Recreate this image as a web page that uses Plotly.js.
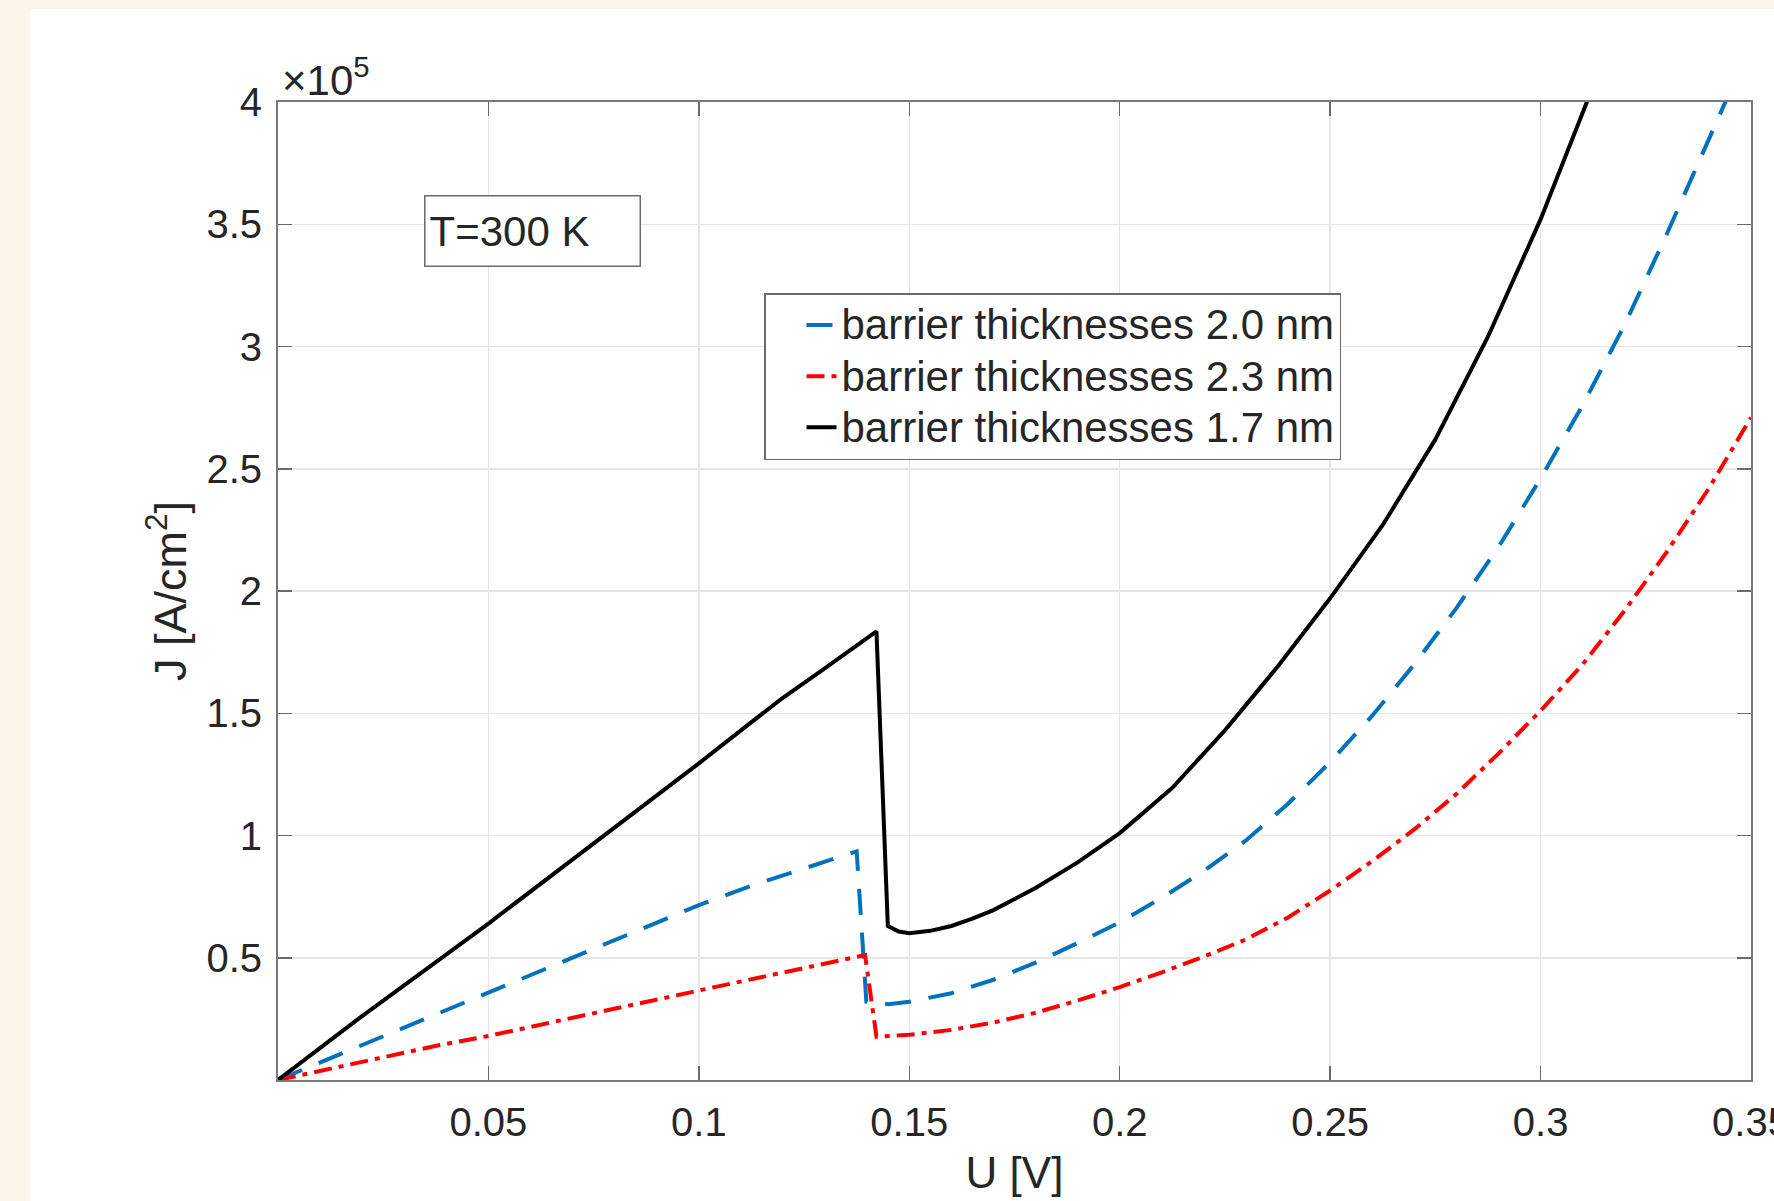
<!DOCTYPE html>
<html>
<head>
<meta charset="utf-8">
<script src="https://cdn.plot.ly/plotly-3.0.1.min.js"></script>
<style>
  html, body { margin: 0; padding: 0; background: #fdf5e7; }
  #chart { width: 1774px; height: 1201px; }
</style>
</head>
<body>
<div id="chart"></div>
<script>
// U [V] and J [x1e5 A/cm^2]
const U_20 = [0, 0.025, 0.05, 0.075, 0.1, 0.1125, 0.125, 0.1375, 0.1398, 0.145, 0.15, 0.16, 0.17, 0.18, 0.19, 0.2, 0.21, 0.22, 0.23, 0.24, 0.25, 0.26, 0.27, 0.28, 0.29, 0.3, 0.31, 0.32, 0.33, 0.34, 0.344, 0.347];
const J_20 = [0, 0.178, 0.355, 0.535, 0.715, 0.795, 0.865, 0.935, 0.32, 0.31, 0.32, 0.355, 0.41, 0.48, 0.56, 0.645, 0.745, 0.855, 0.98, 1.13, 1.30, 1.49, 1.70, 1.93, 2.18, 2.46, 2.76, 3.09, 3.46, 3.85, 4.0, 4.12];

const U_23 = [0, 0.0385, 0.05, 0.075, 0.1, 0.1193, 0.1395, 0.1422, 0.15, 0.16, 0.17, 0.18, 0.19, 0.2, 0.21, 0.22, 0.23, 0.24, 0.25, 0.26, 0.27, 0.28, 0.29, 0.3, 0.31, 0.32, 0.33, 0.34, 0.35];
const J_23 = [0, 0.143, 0.18, 0.275, 0.366, 0.437, 0.511, 0.177, 0.185, 0.205, 0.235, 0.275, 0.325, 0.38, 0.44, 0.505, 0.575, 0.665, 0.775, 0.895, 1.025, 1.17, 1.335, 1.51, 1.70, 1.92, 2.16, 2.42, 2.71];

const U_17 = [0, 0.0187, 0.05, 0.075, 0.1, 0.11, 0.1193, 0.13, 0.1375, 0.1422, 0.1449, 0.1475, 0.15, 0.155, 0.16, 0.165, 0.17, 0.18, 0.19, 0.2, 0.2125, 0.225, 0.2375, 0.25, 0.2625, 0.275, 0.2875, 0.3, 0.311, 0.3135];
const J_17 = [0, 0.245, 0.64, 0.965, 1.295, 1.43, 1.555, 1.685, 1.775, 1.835, 0.63, 0.607, 0.60, 0.61, 0.63, 0.66, 0.695, 0.785, 0.89, 1.01, 1.195, 1.43, 1.69, 1.97, 2.27, 2.62, 3.04, 3.52, 4.0, 4.12];

const seriesNames = ['barrier thicknesses 2.0 nm', 'barrier thicknesses 2.3 nm', 'barrier thicknesses 1.7 nm'];

const xTicks = [0.05, 0.1, 0.15, 0.2, 0.25, 0.3, 0.35];
const xTickLabels = ['0.05', '0.1', '0.15', '0.2', '0.25', '0.3', '0.35'];
const yTicks = [0.5, 1, 1.5, 2, 2.5, 3, 3.5, 4];
const yTickLabels = ['0.5', '1', '1.5', '2', '2.5', '3', '3.5', '4'];

const FONT = 'Liberation Sans, Arial, Helvetica, sans-serif';
const TXT = '#262626';

// plot area in pixels
const W = 1774, H = 1201;
const L = 278, R = 1751, T = 102, B = 1080;
const px = x => (x - L) / (R - L);
const py = y => (B - y) / (B - T);

const legendText = s => '<span style="font-size:42px">' + s + '</span>';

const traces = [
  { x: U_20, y: J_20, name: legendText(seriesNames[0]), mode: 'lines',
    line: { color: '#0072BD', width: 4, dash: '26px,18px' } },
  { x: U_23, y: J_23, name: legendText(seriesNames[1]), mode: 'lines',
    line: { color: '#FF0000', width: 4, dash: '18px,7px,5px,7px' } },
  { x: U_17, y: J_17, name: legendText(seriesNames[2]), mode: 'lines',
    line: { color: '#000000', width: 4 } }
];

const axisCommon = {
  showgrid: true, gridcolor: '#e6e6e6', gridwidth: 1.5,
  ticks: 'inside', ticklen: 14, tickwidth: 1.5, tickcolor: '#6a6a6a',
  showline: true, linecolor: '#7a7a7a', linewidth: 2, mirror: 'ticks',
  zeroline: false, tickfont: { family: FONT, size: 40, color: TXT },
  ticklabeloverflow: 'allow',
  fixedrange: true
};

const layout = {
  width: W, height: H,
  margin: { l: L, r: W - R, t: T, b: H - B, pad: 0 },
  paper_bgcolor: '#fdf5e7',
  plot_bgcolor: '#ffffff',
  font: { family: FONT, color: TXT },
  showlegend: true,
  xaxis: Object.assign({}, axisCommon, {
    range: [0, 0.35], tickmode: 'array', tickvals: xTicks, ticktext: xTickLabels,
    ticklabelstandoff: 6,
    title: { text: 'U [V]', font: { family: FONT, size: 44, color: TXT }, standoff: 14 }
  }),
  yaxis: Object.assign({}, axisCommon, {
    range: [0, 4], tickmode: 'array', tickvals: yTicks, ticktext: yTickLabels,
    ticklabelstandoff: 6,
    title: { text: 'J [A/cm<sup>2</sup>]', font: { family: FONT, size: 45, color: TXT }, standoff: 6 }
  }),
  legend: {
    x: px(764), y: py(293), xanchor: 'left', yanchor: 'top',
    bgcolor: '#ffffff', bordercolor: '#6a6a6a', borderwidth: 1.5,
    font: { family: FONT, size: 37, color: TXT },
    indentation: 36, tracegroupgap: 0
  },
  shapes: [
    { type: 'rect', xref: 'paper', yref: 'paper', layer: 'below',
      x0: px(30), x1: px(W + 10), y0: py(H + 10), y1: py(9),
      fillcolor: '#ffffff', line: { width: 0 } }
  ],
  annotations: [
    { xref: 'paper', yref: 'paper', x: px(424), y: py(195), xanchor: 'left', yanchor: 'top',
      text: 'T=300 K', showarrow: false, align: 'left', valign: 'middle',
      width: 206, height: 61, borderpad: 4, borderwidth: 1.5, bordercolor: '#6a6a6a',
      bgcolor: '#ffffff', font: { family: FONT, size: 42, color: TXT } },
    { xref: 'paper', yref: 'paper', x: px(280), y: py(106), xanchor: 'left', yanchor: 'bottom',
      text: '\u00d710<sup>5</sup>', showarrow: false,
      font: { family: FONT, size: 42, color: TXT } }
  ]
};

Plotly.newPlot('chart', traces, layout, { displayModeBar: false, staticPlot: true });
</script>
</body>
</html>
